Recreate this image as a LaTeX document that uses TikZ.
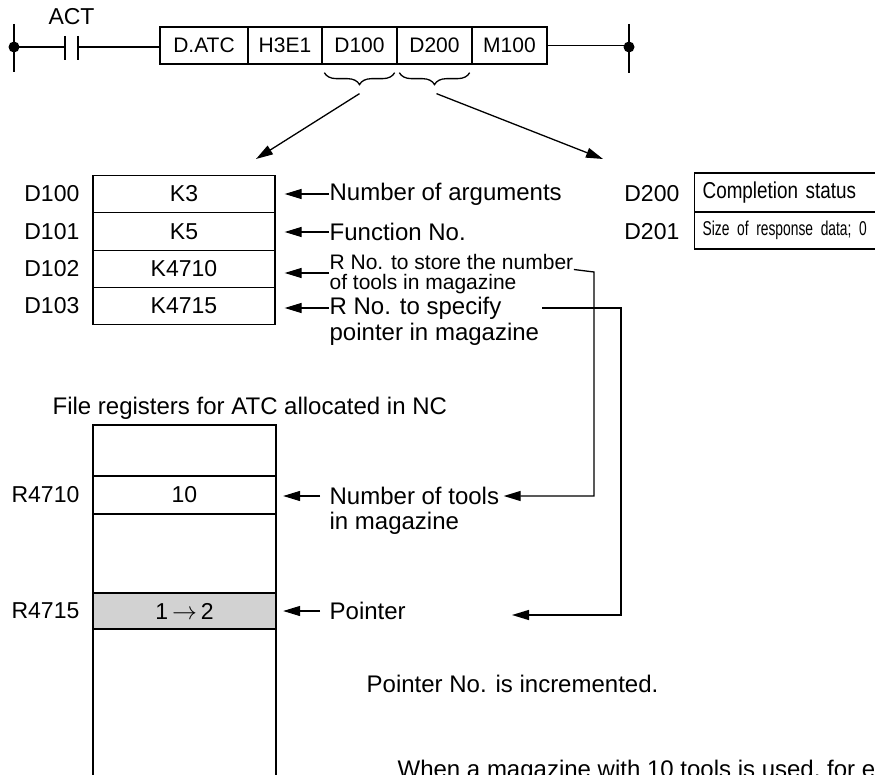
\documentclass[tikz,border=0pt]{standalone}
\usepackage{fontspec}
\setmainfont{Liberation Sans}
\newfontfamily\narrowfont[FakeStretch=0.82]{Liberation Sans}
\usetikzlibrary{arrows.meta,decorations.pathreplacing}

\begin{document}
\begin{tikzpicture}[x=1pt, y=-1pt, line width=1.3pt,
   >={Triangle[length=17pt,width=10pt]},
   font=\fontsize{23}{25}\selectfont,
   cell/.style={draw, inner sep=0pt, minimum height=37pt, font=\fontsize{21}{23}\selectfont},
   reg/.style={draw, inner sep=0pt, minimum width=182pt, minimum height=37.5pt},
   lbl/.style={anchor=east, inner sep=0pt},
   note/.style={anchor=west, inner sep=0pt, font=\fontsize{24}{26}\selectfont},
   small/.style={font=\fontsize{21}{20}\selectfont},
   brace/.style={decorate, decoration={brace, amplitude=12pt, aspect=0.5}}]
  \useasboundingbox (0,0) rectangle (875,775);
  \clip (0,0) rectangle (875,775);

  % ladder rung with the D.ATC instruction
  \node[cell, minimum width=88pt] (atc) at (204,45.5) {D.ATC};
  \node[cell, minimum width=74pt] (h3e1) at (285,45.5) {H3E1};
  \node[cell, minimum width=75pt] (d100) at (359.5,45.5) {D100};
  \node[cell, minimum width=75pt] (d200) at (434.5,45.5) {D200};
  \node[cell, minimum width=75pt] (m100) at (509.5,45.5) {M100};
  \node (act) at (71.5,17) {ACT};
  \coordinate (lrail) at (14,47);
  \coordinate (rrail) at (629,47);
  \draw (14,24) -- (14,72);
  \draw (629,24) -- (629,73);
  \fill (lrail) circle (5.5pt);
  \fill (rrail) circle (5.5pt);
  \draw (lrail) -- (65,47);
  \draw (65,36) -- (65,60);
  \draw (78,36) -- (78,60);
  \draw (78,47) -- (78,47 -| atc.west);
  \draw (m100.east) -- (m100.east -| rrail);

  % braces under the two operands
  \draw[brace] ([xshift=-3pt,yshift=-8pt]d100.south east) -- ([xshift=3pt,yshift=-8pt]d100.south west);
  \draw[brace] ([xshift=-3pt,yshift=-8pt]d200.south east) -- ([xshift=3pt,yshift=-8pt]d200.south west);
  \coordinate (dtab) at (256,159);
  \coordinate (rtab) at (603,159);
  \draw[->] ([yshift=-29pt]d100.south) -- (dtab);
  \draw[->] ([xshift=2pt,yshift=-29pt]d200.south) -- (rtab);

  % argument table D100..D103
  \node[reg] (k3) at (184,194) {K3};
  \node[reg] (k5) at (184,231.5) {K5};
  \node[reg] (k4710) at (184,269) {K4710};
  \node[reg] (k4715) at (184,306) {K4715};
  \node[lbl] (ld100) at (80,194) {D100};
  \node[lbl] (ld101) at (80,231.5) {D101};
  \node[lbl] (ld102) at (80,269) {D102};
  \node[lbl] (ld103) at (80,306) {D103};
  \node[note] (nargs) at (329,194) {Number of arguments};
  \node[note] (nfunc) at (329,232) {Function No.};
  \node[note, small] (store) at (329,262) {R No. to store the number};
  \node[note, small] (store2) at (329,284) {of tools in magazine};
  \node[note] (spec) at (329,308) {R No. to specify};
  \node[note] (spec2) at (329,334) {pointer in magazine};
  \draw[->, shorten >=9pt] (nargs.west) -- (nargs.west -| k3.east);
  \draw[->, shorten >=9pt] (nfunc.west) -- (nfunc.west -| k5.east);
  \draw[->, shorten >=9pt] (329,273) -- (329,273 -| k4710.east);
  \draw[->, shorten >=9pt] (spec.west) -- (spec.west -| k4715.east);

  % completion table D200, D201
  \node[draw, anchor=west, inner ysep=0pt, inner xsep=8pt, text width=190pt,
     minimum height=39pt] (cstat) at (694,192.5) {\narrowfont Completion status};
  \node[draw, anchor=west, inner ysep=0pt, inner xsep=8pt, text width=190pt,
     minimum height=37pt] (rsize) at (694,230.5)
     {\fontsize{20}{22}\narrowfont\addfontfeature{FakeStretch=0.69} Size of response data; 0};
  \node[lbl] (ld200) at (680,194) {D200};
  \node[lbl] (ld201) at (680,232) {D201};

  % file registers in the NC
  \node[note] (ftitle) at (52,408) {File registers for ATC allocated in NC};
  \draw (93,780) -- (93,425) -- (276,425) -- (276,780);
  \node[reg, minimum height=38pt] (r4710) at (184.5,495) {10};
  \node[reg, minimum height=36pt, fill=gray!35] (r4715) at (184.5,611) {1\,$\rightarrow$\,2};
  \node[lbl] (lr4710) at (80,495) {R4710};
  \node[lbl] (lr4715) at (80,611) {R4715};
  \node[note] (ntools) at (329,496) {Number of tools};
  \node[note] (ntools2) at (329,523) {in magazine};
  \node[note] (ptr) at (329,611) {Pointer};
  \draw[->, shorten <=9pt, shorten >=7pt] (ntools.west) -- (ntools.west -| r4710.east);
  \draw[->, shorten <=9pt, shorten >=7pt] (ptr.west) -- (ptr.west -| r4715.east);

  % register numbers carried down to the registers
  \coordinate (ptrend) at (512,615);
  \coordinate (specstart) at (542,308);
  \draw[->, shorten >=4pt] (store.base east) -- (594,272) |- (ntools.east);
  \draw[->] (specstart) -- ++(79,0) |- (ptrend);

  \node[note, anchor=base west] (inc) at (366,692) {Pointer No. is incremented.};
  \node[note, anchor=base west] (when) at (397,777) {When a magazine with 10 tools is used, for example,};
\end{tikzpicture}
\end{document}
